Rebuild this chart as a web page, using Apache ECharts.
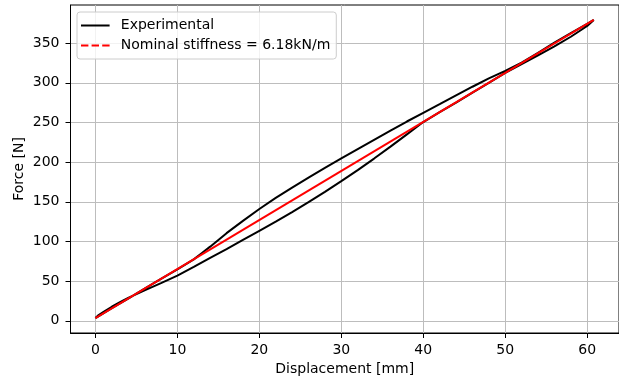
<!DOCTYPE html>
<html>
<head>
<meta charset="utf-8">
<script src="https://cdn.jsdelivr.net/npm/echarts@6/dist/echarts.min.js"></script>
<style>
  html, body { margin: 0; padding: 0; background: #fff; }
  #chart { width: 619px; height: 381px; }
</style>
</head>
<body>
<div id="chart"></div>
<script>
// loading branch (upper one between 12 and 47 mm)
var loadX = [0, 1, 2, 3, 4, 5, 6, 8, 10, 12, 13, 14, 16, 18, 20, 22, 24, 26, 28, 30, 32, 34, 36, 38, 40, 42, 44, 46, 48, 50, 52, 54, 56, 58, 60, 60.8];
var loadF = [3.5, 9.8, 16, 22, 28, 34.3, 40.5, 52.8, 65, 77.5, 85.5, 93.5, 110.5, 126, 141, 155, 168, 180.5, 192.7, 204.7, 216.5, 228.2, 239.8, 251.2, 262.2, 273, 284, 295, 305.5, 315, 325.5, 337.8, 350.5, 362.5, 374.3, 379.2];
// unloading branch, from the end back to the origin
var unloadX = [60.8, 60, 58, 56, 54, 52, 50, 48, 46, 44, 42, 40, 38, 36, 34, 32, 30, 28, 26, 24, 22, 20, 18, 16, 14, 12, 10, 8, 6, 5, 4, 3, 2, 1, 0.3, 0];
var unloadF = [379.2, 371.5, 358, 346, 334.5, 323.5, 312.5, 300, 287.5, 275, 263, 250.5, 235, 219.5, 204.5, 190, 176, 162.5, 149.5, 137, 125, 113.5, 102, 90.5, 79.5, 68, 57, 47.5, 38.5, 33.8, 29, 23.5, 17.8, 11.3, 6.5, 3.5];
// nominal stiffness line (6.18 N/mm)
var nomX = [0, 60.8];
var nomF = [3.5, 379.2];

var xTicks = [0, 10, 20, 30, 40, 50, 60];
var yTicks = [0, 50, 100, 150, 200, 250, 300, 350];

var expData = [];
loadX.forEach(function (x, i) { expData.push([x, loadF[i]]); });
unloadX.forEach(function (x, i) { expData.push([x, unloadF[i]]); });
var nomData = nomX.map(function (x, i) { return [x, nomF[i]]; });

var font = 'DejaVu Sans';
var chart = echarts.init(document.getElementById('chart'));
chart.setOption({
  animation: false,
  textStyle: { fontFamily: font },
  grid: {
    left: 70.5, right: -11, top: 5, bottom: 48,
    show: true, borderColor: '#000', borderWidth: 1, backgroundColor: 'transparent'
  },
  legend: {
    orient: 'vertical',
    left: 77, top: 12,
    padding: [6.5, 6, 6.5, 4],
    itemGap: 6,
    itemWidth: 29, itemHeight: 2,
    backgroundColor: 'rgba(255,255,255,0.8)',
    borderColor: '#cccccc', borderWidth: 1, borderRadius: 3,
    textStyle: { fontFamily: font, fontSize: 14, lineHeight: 14, color: '#000', padding: [0, 0, 0, 6] },
    data: [
      { name: 'Experimental', icon: 'path://M0 0H28.6V2H0Z' },
      { name: 'Nominal stiffness = 6.18kN/m', icon: 'path://M0 0H7.4V2H0Z M10.6 0H18V2H10.6Z M21.2 0H28.6V2H21.2Z' }
    ]
  },
  xAxis: {
    type: 'value', min: -3.04, max: 63.88,
    name: 'Displacement [mm]', nameLocation: 'middle', nameGap: 29,
    nameTextStyle: { fontFamily: font, fontSize: 14, color: '#000' },
    axisLine: { show: true, onZero: false, lineStyle: { color: '#000', width: 1 } },
    axisTick: { show: true, length: 5, customValues: xTicks, lineStyle: { color: '#000' } },
    axisLabel: { customValues: xTicks, margin: 10, fontFamily: font, fontSize: 14, color: '#000' },
    splitLine: { show: true, lineStyle: { color: '#bdbdbd', width: 1 } }
  },
  yAxis: {
    type: 'value', min: -15.3, max: 398,
    name: 'Force [N]', nameLocation: 'middle', nameGap: 44, nameRotate: 90,
    nameMoveOverlap: false,
    nameTextStyle: { fontFamily: font, fontSize: 14, color: '#000' },
    axisLine: { show: true, onZero: false, lineStyle: { color: '#000', width: 1 } },
    axisTick: { show: true, length: 5, customValues: yTicks, lineStyle: { color: '#000' } },
    axisLabel: { customValues: yTicks, margin: 11, fontFamily: font, fontSize: 14, color: '#000' },
    splitLine: { show: true, lineStyle: { color: '#bdbdbd', width: 1 } }
  },
  series: [
    {
      name: 'Experimental', type: 'line', data: expData,
      symbol: 'none', showSymbol: false,
      lineStyle: { color: '#000', width: 2 }, itemStyle: { color: '#000' }
    },
    {
      name: 'Nominal stiffness = 6.18kN/m', type: 'line', data: nomData,
      symbol: 'none', showSymbol: false,
      lineStyle: { color: '#ff0000', width: 2 }, itemStyle: { color: '#ff0000' }
    }
  ]
});
</script>
</body>
</html>
